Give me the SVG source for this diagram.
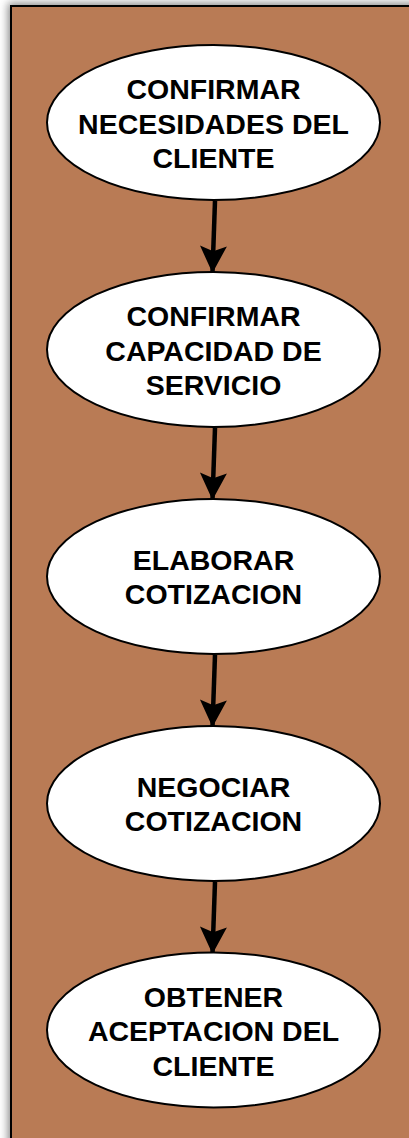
<svg xmlns="http://www.w3.org/2000/svg" width="409" height="1138" viewBox="0 0 409 1138">
<style>
.node ellipse{fill:#fff;stroke:#000;stroke-width:2}
.node text{font-family:"Liberation Sans",Arial,sans-serif;font-weight:bold;font-size:28.5px;fill:#000;text-anchor:middle}
.conn line{stroke:#000;stroke-width:4.5}
</style>
<defs>
<filter id="sh" x="-10%" y="-10%" width="120%" height="120%">
<feGaussianBlur stdDeviation="4"/>
</filter>
<marker id="ah" markerWidth="6" markerHeight="6" refX="5.8" refY="3" orient="auto" markerUnits="strokeWidth">
<path d="M0,0 L6,3 L0,6 L1.2,3 Z" fill="#000"/>
</marker>
</defs>
<rect width="409" height="1138" fill="#fff"/>
<rect x="8" y="3" width="420" height="1150" fill="#888" filter="url(#sh)"/>
<rect x="11" y="6" width="410" height="1150" fill="#B97B55" stroke="#000" stroke-width="2"/>
<g class="conn">
<line x1="215" y1="201" x2="212.5" y2="272" marker-end="url(#ah)"/>
<line x1="215" y1="428" x2="212.5" y2="499" marker-end="url(#ah)"/>
<line x1="215" y1="655" x2="212.5" y2="726" marker-end="url(#ah)"/>
<line x1="215" y1="882" x2="212.5" y2="953" marker-end="url(#ah)"/>
</g>
<g id="n1" class="node">
<ellipse cx="213.5" cy="122.5" rx="166.5" ry="77.5"/>
<text x="213.5" y="99">CONFIRMAR</text>
<text x="213.5" y="133.5">NECESIDADES DEL</text>
<text x="213.5" y="168">CLIENTE</text>
</g>
<g id="n2" class="node">
<ellipse cx="213.5" cy="349.5" rx="166.5" ry="77.5"/>
<text x="213.5" y="326">CONFIRMAR</text>
<text x="213.5" y="360.5">CAPACIDAD DE</text>
<text x="213.5" y="395">SERVICIO</text>
</g>
<g id="n3" class="node">
<ellipse cx="213.5" cy="576.5" rx="166.5" ry="77.5"/>
<text x="213.5" y="570">ELABORAR</text>
<text x="213.5" y="604">COTIZACION</text>
</g>
<g id="n4" class="node">
<ellipse cx="213.5" cy="803.5" rx="166.5" ry="77.5"/>
<text x="213.5" y="797">NEGOCIAR</text>
<text x="213.5" y="831">COTIZACION</text>
</g>
<g id="n5" class="node">
<ellipse cx="213.5" cy="1030" rx="166.5" ry="77.5"/>
<text x="213.5" y="1006.5">OBTENER</text>
<text x="213.5" y="1041">ACEPTACION DEL</text>
<text x="213.5" y="1075.5">CLIENTE</text>
</g>
</svg>
